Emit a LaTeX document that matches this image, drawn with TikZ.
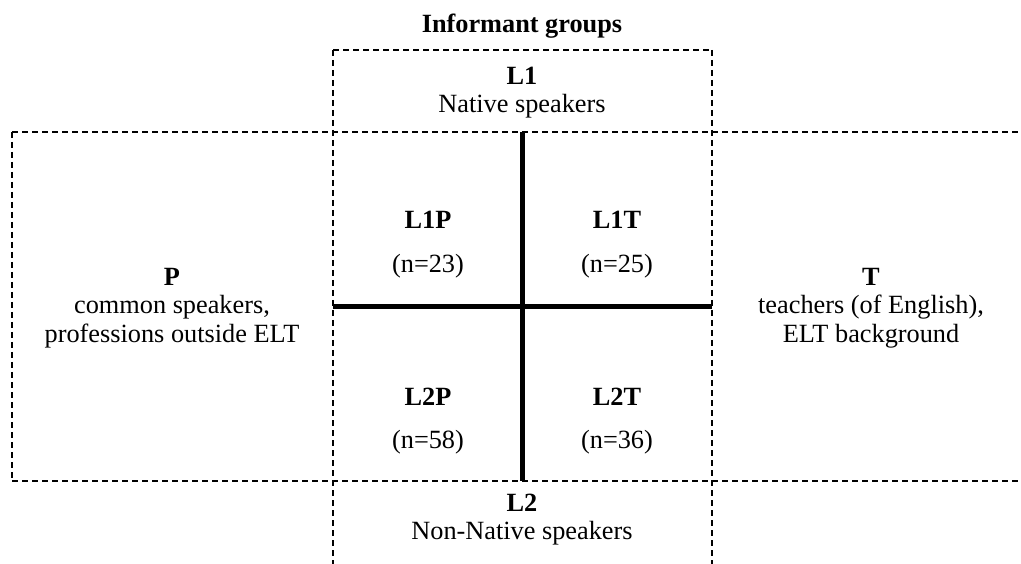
\documentclass[tikz,border=0pt]{standalone}
\usepackage{fontspec}
\setmainfont{Liberation Serif}
\usetikzlibrary{positioning}

\begin{document}
\begin{tikzpicture}[x=1pt, y=-1pt]
		\tikzstyle{Label}	= [anchor=base, inner sep=0pt, font=\fontsize{26.3}{28}\selectfont]
		\tikzstyle{Head}	= [Label, font=\fontsize{26.3}{28}\selectfont\bfseries]
		\tikzstyle{Border}	= [line width=2pt, dash pattern=on 6pt off 4pt]
		\tikzstyle{Axis}	= [line width=5pt]

		\useasboundingbox (0,0) rectangle (1021,564);

		\coordinate (topL) at (333, 50);
		\coordinate (topR) at (712, 50);
		\coordinate (botL) at (333, 564);
		\coordinate (botR) at (712, 564);
		\coordinate (upW) at (12, 132);
		\coordinate (upE) at (1018, 132);
		\coordinate (loW) at (12, 481);
		\coordinate (loE) at (1018, 481);
		\coordinate (crossN) at (522, 132);
		\coordinate (crossS) at (522, 481);
		\coordinate (crossW) at (333, 307);
		\coordinate (crossE) at (712, 307);

		\node (title) at (522, 33) [Head] {Informant groups};

		\node (L1) at (522, 85) [Head] {L1};
		\node (L1d) at (522, 113) [Label] {Native speakers};
		\node (L2) at (522, 511) [Head] {L2};
		\node (L2d) at (522, 539) [Label] {Non-Native speakers};

		\node (P) at (172, 286) [Head] {P};
		\node (Pd1) at (172, 314) [Label] {common speakers,};
		\node (Pd2) at (172, 342) [Label] {professions outside ELT};
		\node (T) at (871, 286) [Head] {T};
		\node (Td1) at (871, 314) [Label] {teachers (of English),};
		\node (Td2) at (871, 342) [Label] {ELT background};

		\node (L1P) at (428, 229) [Head] {L1P};
		\node (nL1P) at (428, 273) [Label] {(n=23)};
		\node (L1T) at (617, 229) [Head] {L1T};
		\node (nL1T) at (617, 273) [Label] {(n=25)};
		\node (L2P) at (428, 405) [Head] {L2P};
		\node (nL2P) at (428, 448) [Label] {(n=58)};
		\node (L2T) at (617, 405) [Head] {L2T};
		\node (nL2T) at (617, 448) [Label] {(n=36)};

		\draw [-] (topL) to (topR) [Border];
		\draw [-] (topL) to (botL) [Border];
		\draw [-] (topR) to (botR) [Border];
		\draw [-] (upW) to (upE) [Border];
		\draw [-] (loW) to (loE) [Border];
		\draw [-] (upW) to (loW) [Border];

		\draw [-] (crossN) to (crossS) [Axis];
		\draw [-] (crossW) to (crossE) [Axis];
	\end{tikzpicture}
\end{document}
